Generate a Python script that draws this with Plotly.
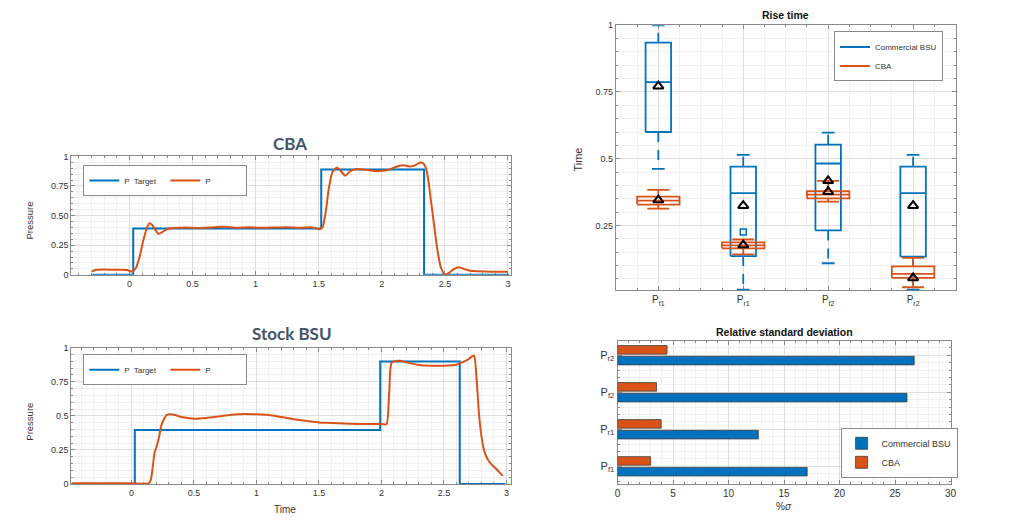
import plotly.graph_objects as go

# ---------------- data ----------------
# CBA pressure response
cba_target_t = [-0.30, 0.03, 1.52, 2.335, 3.01]
cba_target_p = [0.0, 0.39, 0.89, 0.0, 0.0]
cba_t = [-0.30, -0.27, -0.20, -0.10, -0.02, 0.02, 0.05, 0.08, 0.11, 0.14, 0.16, 0.18, 0.21, 0.23,
         0.26, 0.30, 0.35, 0.45, 0.55, 0.65, 0.75, 0.85, 0.95, 1.05, 1.15, 1.25, 1.35, 1.45, 1.50,
         1.53, 1.56, 1.58, 1.61, 1.645, 1.68, 1.71, 1.75, 1.79, 1.85, 1.95, 2.05, 2.12, 2.17, 2.22,
         2.26, 2.30, 2.33, 2.35, 2.37, 2.39, 2.41, 2.43, 2.45, 2.47, 2.50, 2.53, 2.57, 2.61, 2.65,
         2.70, 2.80, 2.90, 3.00]
cba_p = [0.027, 0.040, 0.045, 0.042, 0.040, 0.027, 0.055, 0.150, 0.290, 0.400, 0.436, 0.420, 0.370,
         0.345, 0.360, 0.387, 0.395, 0.400, 0.395, 0.400, 0.405, 0.398, 0.402, 0.396, 0.400, 0.402,
         0.397, 0.400, 0.385, 0.400, 0.565, 0.730, 0.870, 0.905, 0.870, 0.837, 0.875, 0.892, 0.890,
         0.876, 0.884, 0.915, 0.925, 0.915, 0.922, 0.947, 0.940, 0.900, 0.790, 0.620, 0.460, 0.290,
         0.150, 0.055, 0.000, 0.014, 0.047, 0.064, 0.050, 0.033, 0.027, 0.026, 0.025]

# Stock BSU pressure response
bsu_target_t = [-0.48, 0.027, 1.99, 2.626, 2.99]
bsu_target_p = [0.0, 0.396, 0.899, 0.0, 0.0]
bsu_t = [-0.48, 0.00, 0.14, 0.155, 0.17, 0.185, 0.20, 0.22, 0.24, 0.26, 0.28, 0.31, 0.35, 0.40,
         0.50, 0.60, 0.70, 0.80, 0.90, 1.00, 1.10, 1.20, 1.30, 1.40, 1.50, 1.60, 1.70, 1.80, 1.90,
         2.00, 2.04, 2.06, 2.07, 2.08, 2.10, 2.15, 2.20, 2.30, 2.40, 2.50, 2.60, 2.65, 2.70, 2.74,
         2.76, 2.78, 2.80, 2.82, 2.85, 2.88, 2.92, 2.97]
bsu_p = [0.005, 0.005, 0.005, 0.030, 0.120, 0.230, 0.270, 0.340, 0.432, 0.475, 0.504, 0.511, 0.506,
         0.491, 0.479, 0.484, 0.496, 0.508, 0.513, 0.511, 0.506, 0.491, 0.475, 0.463, 0.451, 0.448,
         0.443, 0.440, 0.440, 0.440, 0.438, 0.635, 0.827, 0.887, 0.899, 0.904, 0.892, 0.873, 0.868,
         0.868, 0.875, 0.894, 0.918, 0.942, 0.780, 0.514, 0.347, 0.250, 0.180, 0.144, 0.108, 0.060]

# Rise time box statistics
cats = ["P<sub>f1</sub>", "P<sub>r1</sub>", "P<sub>f2</sub>", "P<sub>r2</sub>"]
bsu_q1 = [0.600, 0.135, 0.231, 0.133]
bsu_med = [0.787, 0.371, 0.482, 0.371]
bsu_q3 = [0.935, 0.470, 0.553, 0.470]
bsu_lo = [0.462, 0.009, 0.108, 0.009]
bsu_hi = [1.000, 0.514, 0.598, 0.514]
bsu_mean = [0.772, 0.324, 0.417, 0.324]
bsu_out_cat = [1]
bsu_out_val = [0.225]
cba_q1 = [0.328, 0.164, 0.351, 0.053]
cba_med = [0.343, 0.175, 0.365, 0.068]
cba_q3 = [0.358, 0.186, 0.378, 0.096]
cba_lo = [0.313, 0.141, 0.339, 0.018]
cba_hi = [0.383, 0.197, 0.417, 0.128]
cba_mean = [0.345, 0.176, 0.376, 0.053]

# Relative standard deviation (%)
rsd_bsu = [17.08, 12.68, 26.07, 26.72]
rsd_cba = [2.98, 3.93, 3.51, 4.46]

BLUE = "#0072BD"
ORANGE = "#D95319"
AX = "#8a8a8a"
GRID = "#dedede"
MINOR = "#f0f0f0"
TXT = "#333333"
FONT = "Liberation Sans, Arial, sans-serif"

fig = go.Figure()

# ---------------- line charts ----------------
for (tt, tp, pt, pp, xa, ya, lg) in [
        (cba_target_t, cba_target_p, cba_t, cba_p, "x", "y", "legend"),
        (bsu_target_t, bsu_target_p, bsu_t, bsu_p, "x2", "y2", "legend2")]:
    fig.add_trace(go.Scatter(x=tt, y=tp, mode="lines", line=dict(color=BLUE, width=2, shape="hv"),
                             name="P  Target", xaxis=xa, yaxis=ya, legend=lg))
    fig.add_trace(go.Scatter(x=pt, y=pp, mode="lines", line=dict(color=ORANGE, width=2, shape="spline", smoothing=0.6),
                             name="P", xaxis=xa, yaxis=ya, legend=lg))


# ---------------- box plot (drawn from the box statistics) ----------------
def box_traces(q1, med, q3, lo, hi, color, hw, cw, name, dash):
    bx, by, mx, my, wx, wy, cx, cy = [], [], [], [], [], [], [], []
    for i in range(len(q1)):
        bx += [i - hw, i + hw, i + hw, i - hw, i - hw, None]
        by += [q1[i], q1[i], q3[i], q3[i], q1[i], None]
        mx += [i - hw, i + hw, None]
        my += [med[i], med[i], None]
        wx += [i, i, None, i, i, None]
        wy += [q3[i], hi[i], None, q1[i], lo[i], None]
        cx += [i - cw, i + cw, None, i - cw, i + cw, None]
        cy += [hi[i], hi[i], None, lo[i], lo[i], None]
    common = dict(xaxis="x3", yaxis="y3", mode="lines", hoverinfo="skip")
    fig.add_trace(go.Scatter(x=wx, y=wy, line=dict(color=color, width=1.8, dash=dash), showlegend=False, **common))
    fig.add_trace(go.Scatter(x=cx, y=cy, line=dict(color=color, width=1.8), showlegend=False, **common))
    fig.add_trace(go.Scatter(x=bx, y=by, line=dict(color=color, width=1.8), name=name, legend="legend3", **common))
    fig.add_trace(go.Scatter(x=mx, y=my, line=dict(color=color, width=1.8), showlegend=False, **common))


box_traces(bsu_q1, bsu_med, bsu_q3, bsu_lo, bsu_hi, BLUE, 0.15, 0.075, "Commercial BSU", "10px,8px")
box_traces(cba_q1, cba_med, cba_q3, cba_lo, cba_hi, ORANGE, 0.25, 0.13, "CBA", "solid")
fig.add_trace(go.Scatter(x=bsu_out_cat, y=bsu_out_val, mode="markers", xaxis="x3", yaxis="y3", showlegend=False,
                         marker=dict(symbol="square-open", size=6, color=BLUE, line=dict(width=1.5))))
fig.add_trace(go.Scatter(x=list(range(4)) + list(range(4)), y=bsu_mean + cba_mean, mode="markers",
                         xaxis="x3", yaxis="y3", showlegend=False,
                         marker=dict(symbol="triangle-up-open", size=9, color="black", line=dict(width=2))))

# ---------------- bar chart ----------------
fig.add_trace(go.Bar(y=list(range(4)), x=rsd_bsu, orientation="h", name="Commercial BSU",
                     marker=dict(color=BLUE, line=dict(color="#404040", width=0.8)),
                     xaxis="x4", yaxis="y4", legend="legend4"))
fig.add_trace(go.Bar(y=list(range(4)), x=rsd_cba, orientation="h", name="CBA",
                     marker=dict(color=ORANGE, line=dict(color="#404040", width=0.8)),
                     xaxis="x4", yaxis="y4", legend="legend4"))


def ax(domain, rng, **kw):
    d = dict(domain=domain, range=rng, showline=True, linecolor=AX, linewidth=1, mirror="ticks",
             ticks="inside", ticklen=4, tickcolor=AX, showgrid=True, gridcolor=GRID, gridwidth=1,
             zeroline=False, tickfont=dict(family=FONT, size=9, color=TXT), layer="below traces")
    d.update(kw)
    return d


W, H = 1024.0, 525.0
def xd(a, b): return [a / W, b / W]
def yd(top, bot): return [1 - bot / H, 1 - top / H]


minor_x = lambda dt: dict(dtick=dt, showgrid=True, gridcolor=MINOR, ticks="inside", ticklen=2, tickcolor=AX)

fig.update_layout(
    width=1024, height=525, margin=dict(l=0, r=0, t=0, b=0),
    paper_bgcolor="white", plot_bgcolor="white",
    barmode="group", bargap=0.42, bargroupgap=0.2,
    font=dict(family=FONT, color=TXT),
    xaxis=ax(xd(69, 512), [-0.46, 3.02], anchor="y", minor=minor_x(0.1),
             tickvals=[0, 0.5, 1, 1.5, 2, 2.5, 3], ticktext=["0", "0.5", "1", "1.5", "2", "2.5", "3"]),
    yaxis=ax(yd(154.3, 275), [0, 1], anchor="x", tickvals=[0, 0.25, 0.5, 0.75, 1],
             ticktext=["0", "0.25", "0.50", "0.75", "1"], minor=minor_x(0.05)),
    xaxis2=ax(xd(69, 513), [-0.48, 3.04], anchor="y2", tickvals=[0, 0.5, 1, 1.5, 2, 2.5, 3],
              ticktext=["0", "0.5", "1", "1.5", "2", "2.5", "3"], minor=minor_x(0.1)),
    yaxis2=ax(yd(349.3, 488.3), [0, 1], anchor="x2", tickvals=[0, 0.25, 0.5, 0.75, 1],
              ticktext=["0", "0.25", "0.5", "0.75", "1"], minor=minor_x(0.05)),
    xaxis3=ax(xd(618.3, 961), [-0.5, 3.5], anchor="y3", tickvals=[0, 1, 2, 3], ticktext=cats,
              tickfont=dict(family=FONT, size=10, color=TXT), minor=minor_x(0.25)),
    yaxis3=ax(yd(20.7, 291), [0.006, 1.0], anchor="x3", tickvals=[0.25, 0.5, 0.75, 1],
              ticktext=["0.25", "0.5", "0.75", "1"], minor=minor_x(0.05)),
    xaxis4=ax(xd(620, 956), [0, 30], anchor="y4", tickvals=[0, 5, 10, 15, 20, 25, 30],
              tickfont=dict(family=FONT, size=10, color=TXT), minor=minor_x(1)),
    yaxis4=ax(yd(342.3, 488), [-0.47, 3.39], anchor="x4", tickvals=[0, 1, 2, 3], ticktext=cats,
              tickfont=dict(family=FONT, size=11, color=TXT), minor=minor_x(0.2)),
    legend=dict(x=81 / W, y=1 - 163 / H, xanchor="left", yanchor="top", orientation="h",
                bordercolor=AX, borderwidth=1, bgcolor="white", font=dict(size=8, family=FONT, color=TXT),
                entrywidth=36, entrywidthmode="pixels"),
    legend2=dict(x=81 / W, y=1 - 356 / H, xanchor="left", yanchor="top", orientation="h",
                 bordercolor=AX, borderwidth=1, bgcolor="white", font=dict(size=8, family=FONT, color=TXT),
                 entrywidth=36, entrywidthmode="pixels"),
    legend3=dict(x=838.3 / W, y=1 - 27 / H, xanchor="left", yanchor="top",
                 bordercolor=AX, borderwidth=1, bgcolor="white", font=dict(size=8, family=FONT, color=TXT),
                 tracegroupgap=0),
    legend4=dict(x=845 / W, y=1 - 482 / H, xanchor="left", yanchor="bottom",
                 bordercolor=AX, borderwidth=1, bgcolor="white", font=dict(size=9, family=FONT, color=TXT),
                 tracegroupgap=0),
    showlegend=True,
)

annots = [
    dict(text="<b>CBA</b>", x=290 / W, y=1 - 141.5 / H, font=dict(family="Lato, sans-serif", size=17, color="#44546A")),
    dict(text="<b>Stock BSU</b>", x=291.7 / W, y=1 - 335 / H, font=dict(family="Lato, sans-serif", size=17, color="#44546A")),
    dict(text="<b>Rise time</b>", x=789 / W, y=1 - 10.7 / H, font=dict(family=FONT, size=10.5, color="#111")),
    dict(text="<b>Relative standard deviation</b>", x=788 / W, y=1 - 333.3 / H, font=dict(family=FONT, size=10.5, color="#111")),
    dict(text="Pressure", x=27 / W, y=1 - 220 / H, textangle=-90, font=dict(family=FONT, size=9.5, color=TXT)),
    dict(text="Pressure", x=27 / W, y=1 - 425 / H, textangle=-90, font=dict(family=FONT, size=9.5, color=TXT)),
    dict(text="Time", x=285 / W, y=1 - 514 / H, font=dict(family=FONT, size=10, color=TXT)),
    dict(text="Time", x=580 / W, y=1 - 157.7 / H, textangle=-90, font=dict(family=FONT, size=11, color=TXT)),
    dict(text="%<i>σ</i>", x=788.3 / W, y=1 - 511.7 / H, font=dict(family=FONT, size=10, color=TXT)),
]
for a in annots:
    a.update(xref="paper", yref="paper", showarrow=False, xanchor="center", yanchor="middle")
fig.update_layout(annotations=annots)

fig.write_html("out.html", config={"displayModeBar": False},
               post_script="document.body.style.margin='0';document.body.style.overflow='hidden';")
